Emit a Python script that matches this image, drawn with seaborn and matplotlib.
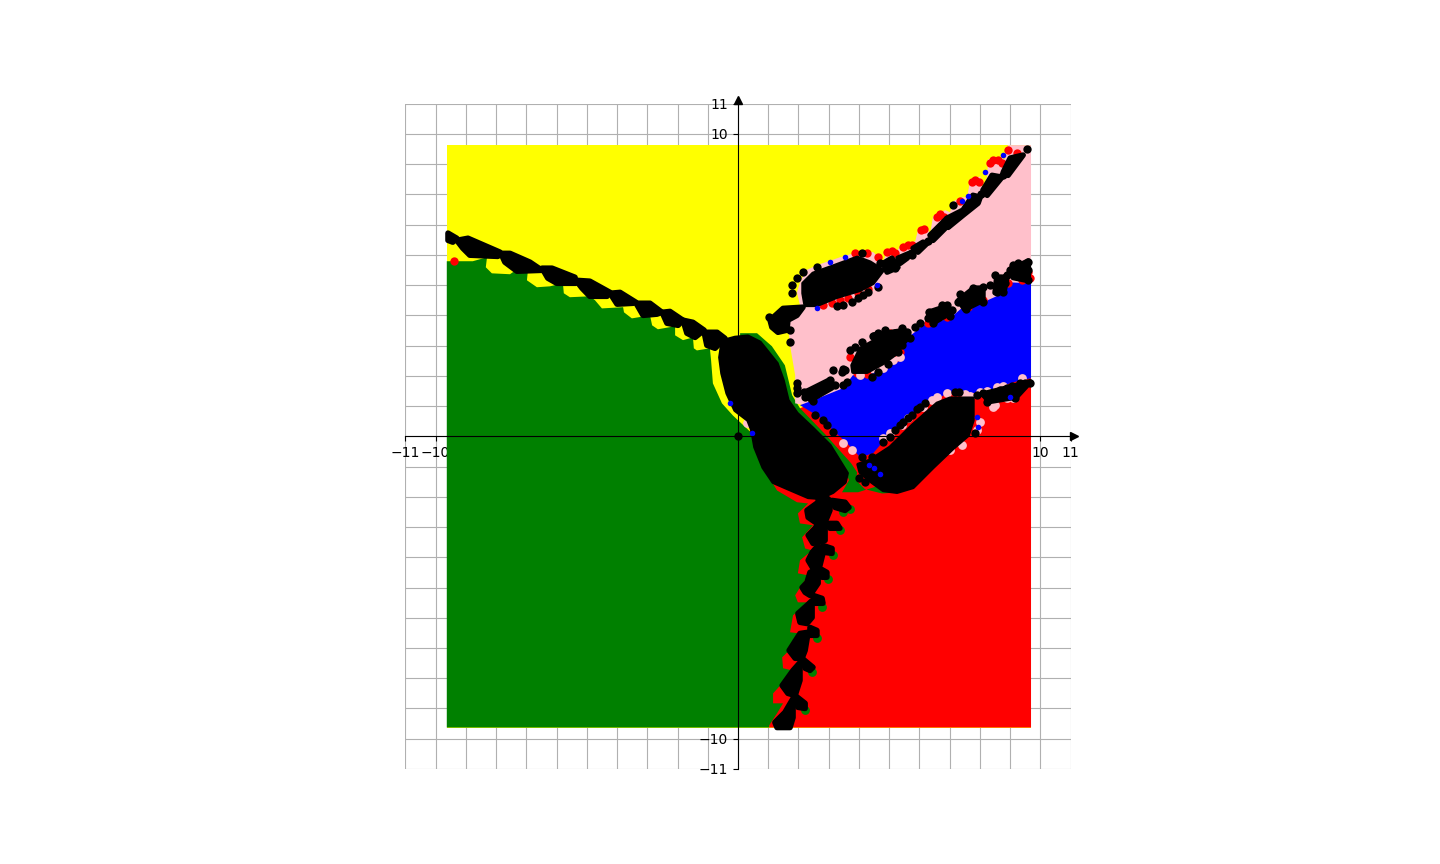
import matplotlib
matplotlib.use("Agg")
import matplotlib.pyplot as plt
import pandas as pd
import seaborn as sns

sns.set_style("ticks", rc={"axes.edgecolor": "black", "text.color": "black",
                           "xtick.color": "black", "ytick.color": "black",
                           "axes.linewidth": 0.8, "grid.color": "#b0b0b0"})
plt.rcParams["font.family"] = ["DejaVu Sans"]

# basin outlines
yellow_area = [(-9.63, 9.63), (9.69, 9.63), (9.69, -9.63), (-9.63, -9.63)]
red_area = [(1.03, -9.63), (9.69, -9.63), (9.69, 1.95), (8.34, 1.70), (7.24, 1.60), (6.25, 1.20),
            (5.03, 0.30), (4.13, -0.50), (3.61, -0.20), (3.14, 0.25), (2.71, 0.70), (2.22, 1.00),
            (0.40, 0.20), (0.07, -0.13), (0.73, -2.12)]
green_area = [(-9.63, -9.63), (-9.63, 5.79), (-8.77, 5.79), (-8.30, 5.92), (-8.34, 5.59), (-8.14, 5.39),
              (-7.54, 5.36), (-7.44, 5.43), (-6.95, 5.46), (-6.98, 5.16), (-6.65, 4.93), (-6.22, 4.96),
              (-5.79, 5.06), (-5.76, 4.73), (-5.56, 4.60), (-4.90, 4.63), (-4.73, 4.50), (-4.50, 4.23),
              (-3.80, 4.27), (-3.77, 4.10), (-3.51, 3.90), (-2.91, 4.00), (-2.84, 3.67), (-2.65, 3.54),
              (-2.08, 3.64), (-2.08, 3.34), (-1.82, 3.18), (-1.49, 3.27), (-1.46, 2.91), (-1.36, 2.84),
              (-0.93, 2.91), (-0.89, 2.51), (-0.83, 1.75), (-0.53, 1.09), (-0.17, 0.69), (0.46, 0.10),
              (0.56, -0.13), (0.83, -1.03), (1.29, -1.79), (1.95, -2.18), (2.32, -2.22), (1.98, -2.55),
              (2.05, -2.88), (2.48, -2.94), (2.12, -3.34), (2.22, -3.71), (2.45, -3.77), (2.05, -4.10),
              (1.98, -4.53), (2.32, -4.60), (2.05, -5.00), (1.89, -5.26), (1.98, -5.49), (2.28, -5.49),
              (1.82, -5.92), (1.72, -6.48), (2.05, -6.52), (1.79, -6.98), (1.46, -7.31), (1.49, -7.67),
              (1.79, -7.74), (1.46, -8.17), (1.16, -8.50), (1.16, -8.83), (1.49, -8.83), (1.29, -9.16),
              (1.03, -9.56), (1.03, -9.63)]
green_band = [(0.07, 3.41), (0.63, 3.41), (1.12, 2.98), (1.55, 2.35), (1.79, 1.36), (2.05, 0.93), (2.88, 0.07),
              (3.74, -0.89), (3.94, -1.19), (3.90, -1.45), (4.20, -1.75), (4.76, -1.89), (5.40, -1.85),
              (4.76, -1.60), (3.97, -1.85), (3.44, -1.85), (3.67, -1.45), (3.50, -1.00), (2.00, 0.00), (0.07, 2.00)]
pink_area = [(1.89, 1.09), (1.89, 2.02), (1.72, 3.01), (1.65, 3.77), (2.05, 4.17), (2.15, 4.23), (2.05, 4.33),
             (1.95, 4.76), (2.05, 5.09), (2.25, 5.49), (2.61, 5.66), (3.37, 5.92), (4.04, 6.12), (4.47, 6.09),
             (4.80, 5.79), (4.93, 6.09), (5.26, 6.12), (5.36, 6.29), (5.86, 6.45), (5.95, 6.81), (6.25, 6.91),
             (6.35, 6.68), (6.45, 7.28), (6.85, 7.48), (7.01, 7.41), (7.11, 7.77), (7.41, 7.91), (7.58, 7.91),
             (7.67, 8.44), (8.01, 8.60), (8.10, 8.10), (8.24, 8.60), (8.27, 9.16), (8.67, 9.23), (8.83, 9.16),
             (8.93, 9.63), (9.69, 9.63), (9.69, 5.06), (5.36, 2.18), (2.48, 0.86), (2.10, 1.05)]
blue_area = [(2.05, 1.03), (2.48, 1.19), (3.47, 1.59), (3.80, 2.02), (4.47, 2.08), (5.36, 2.61), (5.52, 3.18),
             (6.12, 3.67), (7.01, 3.90), (7.58, 4.40), (8.10, 4.43), (8.77, 4.73), (9.00, 5.09), (9.69, 5.06),
             (9.69, 1.92), (9.33, 1.85), (8.57, 1.62), (8.01, 1.42), (7.24, 1.46), (6.91, 1.42), (6.25, 1.03),
             (5.59, 0.53), (5.03, 0.10), (4.47, -0.56), (4.04, -0.69), (3.61, -0.23), (3.14, 0.20), (2.71, 0.63)]

# black sets
big_blob = [(-0.43, 3.18), (-0.10, 3.27), (0.33, 3.31), (0.73, 3.11), (1.29, 2.41), (1.49, 1.85), (1.65, 1.19),
            (1.95, 0.76), (2.48, 0.26), (3.04, -0.30), (3.61, -1.22), (3.54, -1.52), (3.14, -1.85), (2.71, -2.05),
            (2.32, -2.02), (1.62, -1.72), (1.16, -1.52), (0.83, -1.03), (0.56, -0.36), (0.46, 0.20), (0.33, 0.53),
            (-0.10, 0.86), (-0.36, 1.42), (-0.53, 2.08), (-0.60, 2.61), (-0.53, 3.08)]
upper_blob = [(2.15, 5.06), (2.48, 5.39), (3.04, 5.59), (3.94, 5.92), (4.37, 5.76), (4.80, 5.49), (4.47, 5.06),
              (4.04, 4.83), (3.27, 4.60), (2.61, 4.33), (2.22, 4.33), (2.15, 4.73)]
mid_blob = [(3.77, 2.35), (4.04, 2.91), (4.70, 3.27), (5.36, 3.24), (5.46, 3.08), (5.26, 2.75), (4.80, 2.41),
            (4.27, 2.12), (3.80, 2.12)]
lower_blob = [(4.37, -0.79), (5.03, -0.36), (5.76, 0.36), (6.58, 1.09), (7.01, 1.26), (7.77, 1.26), (7.77, 0.53),
              (7.61, 0.03), (7.11, -0.40), (6.45, -1.03), (5.79, -1.69), (5.26, -1.85), (4.80, -1.79), (4.43, -1.52),
              (4.04, -1.19), (3.97, -0.93)]
left_chain = [
    [(-9.59, 6.72), (-9.30, 6.55), (-9.43, 6.42), (-9.59, 6.48)],
    [(-9.30, 6.48), (-8.93, 6.55), (-7.87, 6.09), (-7.94, 5.95), (-8.87, 5.99), (-9.10, 6.22)],
    [(-7.84, 6.05), (-7.54, 6.05), (-6.88, 5.76), (-6.48, 5.49), (-7.31, 5.46), (-7.71, 5.76)],
    [(-6.48, 5.56), (-6.15, 5.56), (-5.39, 5.26), (-5.36, 5.06), (-5.99, 5.06), (-6.29, 5.23)],
    [(-5.36, 5.16), (-4.90, 5.13), (-4.23, 4.76), (-4.33, 4.63), (-4.90, 4.63), (-5.16, 4.90)],
    [(-4.23, 4.73), (-3.90, 4.76), (-3.37, 4.43), (-3.47, 4.40), (-4.00, 4.37)],
    [(-3.37, 4.40), (-2.91, 4.40), (-2.51, 4.10), (-2.68, 4.04), (-3.14, 4.00)],
    [(-2.51, 4.10), (-2.25, 4.13), (-1.82, 3.84), (-1.98, 3.67), (-2.35, 3.74)],
    [(-1.82, 3.84), (-1.49, 3.77), (-1.12, 3.51), (-1.42, 3.27), (-1.69, 3.41)],
    [(-1.12, 3.44), (-0.69, 3.44), (-0.43, 3.24), (-0.76, 2.91), (-1.03, 3.01)],
]
down_chain = [
    [(2.65, -1.79), (3.04, -2.12), (3.04, -2.45), (2.88, -2.84), (2.61, -2.88), (2.32, -2.68), (2.28, -2.45), (2.65, -2.18)],
    [(3.11, -2.12), (3.54, -2.18), (3.67, -2.35), (3.54, -2.45), (3.21, -2.35)],
    [(2.65, -2.88), (2.88, -3.01), (2.88, -3.44), (2.48, -3.54), (2.32, -3.27), (2.55, -3.04)],
    [(2.94, -2.88), (3.27, -2.88), (3.37, -3.04), (3.04, -3.04)],
    [(2.65, -3.61), (2.81, -3.87), (2.71, -4.27), (2.48, -4.37), (2.32, -4.10), (2.45, -3.84)],
    [(2.81, -3.61), (3.11, -3.71), (3.11, -3.87), (2.88, -3.84)],
    [(2.65, -4.37), (2.65, -4.86), (2.38, -5.26), (2.22, -5.16), (2.12, -5.00), (2.28, -4.83), (2.38, -4.50)],
    [(2.71, -4.37), (2.94, -4.50), (2.94, -4.66), (2.78, -4.66)],
    [(2.45, -5.43), (2.45, -5.99), (2.28, -6.19), (2.05, -6.15), (1.98, -5.86), (2.28, -5.59)],
    [(2.48, -5.26), (2.78, -5.36), (2.81, -5.52), (2.55, -5.52)],
    [(2.32, -6.48), (2.22, -7.08), (2.12, -7.34), (1.89, -7.34), (1.69, -7.08), (2.05, -6.52)],
    [(2.38, -6.32), (2.61, -6.42), (2.61, -6.58), (2.38, -6.58)],
    [(2.05, -7.48), (2.05, -8.07), (1.89, -8.57), (1.65, -8.50), (1.46, -8.24), (1.82, -7.74)],
    [(2.12, -7.34), (2.48, -7.64), (2.38, -7.74), (2.22, -7.67)],
    [(1.82, -8.67), (1.82, -9.30), (1.72, -9.63), (1.29, -9.63), (1.22, -9.46), (1.55, -9.13)],
    [(1.89, -8.57), (2.22, -8.83), (2.22, -9.00), (1.98, -8.96)],
]
up_chain = [
    [(4.80, 5.72), (5.09, 5.89), (5.29, 5.59), (4.93, 5.43)],
    [(5.29, 5.89), (5.76, 6.09), (5.59, 5.89), (5.36, 5.72)],
    [(5.79, 6.22), (6.12, 6.42), (6.25, 6.38), (5.95, 6.09)],
    [(6.35, 6.65), (6.91, 7.21), (6.95, 6.98), (6.45, 6.48)],
    [(6.91, 7.21), (7.44, 7.48), (7.77, 7.97), (8.01, 7.91), (7.94, 7.71), (7.44, 7.31), (6.95, 6.91)],
    [(8.10, 8.14), (8.40, 8.63), (8.73, 8.57), (8.24, 7.97)],
    [(8.77, 8.73), (9.00, 9.20), (9.43, 9.30), (8.93, 8.63)],
    [(1.06, 3.84), (1.49, 4.23), (2.15, 4.27), (1.95, 4.00), (1.65, 3.84), (1.62, 3.51), (1.32, 3.44), (1.12, 3.61)],
]
mid_chain = [
    [(9.00, 5.50), (9.60, 5.80), (9.60, 5.15), (9.10, 5.25)],
    [(7.30, 4.50), (7.80, 4.90), (8.10, 4.90), (8.10, 4.50), (7.50, 4.20)],
    [(8.55, 5.20), (8.90, 5.30), (8.80, 4.80), (8.50, 4.75)],
    [(6.30, 4.10), (6.90, 4.30), (7.05, 4.10), (6.45, 3.75)],
    [(4.50, 3.35), (5.50, 3.50), (5.60, 3.25), (5.30, 2.90)],
    [(2.20, 1.45), (3.00, 1.85), (3.10, 1.60), (2.40, 1.20)],
    [(8.10, 1.40), (8.90, 1.60), (9.66, 1.80), (9.20, 1.30), (8.30, 1.15)],
]

# single points along the basin edges
black_points = [(0, 0), (9.56, 9.49), (7.11, 7.64), (3.47, 1.69), (3.61, 1.79), (3.44, 2.12), (3.54, 2.18), (3.71, 2.84),
                (3.87, 2.94), (4.10, 3.11), (4.47, 3.31), (4.63, 3.41), (4.86, 3.51), (5.19, 3.41), (5.43, 3.57),
                (5.59, 3.44), (5.69, 3.24), (5.29, 2.78), (5.43, 3.01), (4.96, 2.38), (4.63, 2.12), (4.43, 1.95),
                (5.86, 3.61), (6.02, 3.74), (6.29, 3.90), (6.32, 4.10), (6.58, 4.07), (6.75, 4.33), (6.91, 4.33),
                (7.08, 4.17), (7.01, 3.97), (6.45, 3.74), (7.28, 4.43), (7.34, 4.70), (7.58, 4.56), (7.54, 4.20),
                (7.77, 4.90), (7.77, 4.66), (8.01, 4.66), (8.10, 4.43), (8.10, 4.93), (8.50, 5.33), (8.67, 5.23),
                (8.57, 4.76), (8.77, 4.76), (8.90, 5.33), (9.10, 5.66), (9.26, 5.72), (9.59, 5.76), (9.59, 5.16),
                (9.33, 5.39), (9.16, 5.39), (9.00, 5.49), (9.59, 5.49), (8.33, 5.00), (8.83, 5.06), (9.49, 5.33),
                (6.68, 4.17), (2.48, 1.16), (2.22, 1.29), (2.18, 1.46), (2.32, 1.46), (2.71, 1.59), (3.04, 1.85),
                (3.14, 2.18), (3.47, 2.22), (3.21, 1.69), (2.91, 1.72), (2.55, 0.69), (2.81, 0.53), (2.94, 0.36),
                (3.14, 0.13), (1.95, 1.75), (1.95, 1.59), (1.95, 1.42), (1.03, 3.94), (1.72, 3.51), (1.72, 3.11),
                (1.79, 4.73), (1.79, 5.00), (1.95, 5.23), (2.15, 5.43), (2.61, 5.59), (4.10, 6.05), (4.70, 5.72),
                (5.19, 5.56), (3.27, 4.30), (3.47, 4.33), (3.77, 4.43), (3.97, 4.56), (4.13, 4.66), (4.30, 4.76),
                (4.63, 4.93), (7.18, 1.46), (7.31, 1.46), (6.19, 1.09), (6.02, 0.96), (5.92, 0.89), (5.76, 0.69),
                (5.62, 0.60), (5.46, 0.46), (5.36, 0.36), (5.19, 0.20), (5.03, -0.03), (4.80, -0.20), (4.43, -0.69),
                (4.10, -0.69), (8.10, 1.42), (8.34, 1.29), (7.91, 1.36), (8.24, 1.12), (8.44, 1.42), (8.67, 1.52),
                (8.90, 1.59), (9.16, 1.26), (9.33, 1.75), (9.49, 1.75), (9.66, 1.75), (9.06, 1.65), (7.84, 0.10),
                (4.63, -0.99), (4.70, -1.46), (4.00, -1.39), (4.20, -1.52), (5.76, 6.00), (6.27, 6.45), (8.02, 8.00),
                (8.75, 8.65), (6.90, 7.00)]
red_points = [(8.34, 9.03), (8.44, 9.13), (8.60, 9.13), (8.73, 9.03), (7.74, 8.40), (7.84, 8.47), (7.97, 8.40),
              (6.58, 7.24), (6.68, 7.34), (6.81, 7.24), (6.05, 6.81), (6.15, 6.85), (4.93, 6.09), (5.09, 6.12),
              (5.19, 6.05), (5.46, 6.25), (5.62, 6.32), (5.76, 6.32), (3.87, 6.05), (4.27, 6.05), (4.63, 5.92),
              (7.34, 7.77), (8.93, 9.46), (9.23, 9.36), (2.81, 4.33), (3.11, 4.40), (3.37, 4.50), (3.64, 4.56),
              (3.97, 4.73), (4.30, 4.86), (3.71, 2.61), (3.94, 2.08), (4.27, 2.05), (4.80, 2.28), (5.19, 2.58),
              (5.36, 2.78), (5.03, 3.41), (6.29, 3.74), (6.91, 3.94), (7.61, 4.27), (8.10, 4.50), (8.93, 5.06),
              (9.59, 5.43), (9.39, 5.16), (9.66, 5.23), (9.10, 5.59), (-9.39, 5.79)]
pink_points = [(6.91, 1.42), (6.58, 1.29), (7.51, 1.39), (7.67, 1.32), (8.01, 1.46), (8.24, 1.49), (6.42, 1.19),
               (6.12, 0.96), (5.62, 0.60), (5.43, 0.36), (5.03, 0.10), (4.80, -0.07), (3.77, -0.46), (3.47, -0.23),
               (8.90, 1.26), (9.10, 1.26), (8.57, 1.62), (8.44, 0.96), (8.50, 1.03), (8.01, 0.46), (7.91, 0.20),
               (7.41, -0.30), (7.01, -0.46), (9.39, 1.92), (8.77, 1.65), (4.04, 2.02), (4.80, 2.25), (5.13, 2.51),
               (5.36, 2.61), (0.30, 0.43)]
blue_points = [(4.33, -0.96), (4.50, -1.06), (4.70, -1.26), (7.91, 0.63), (7.94, 0.30), (9.00, 1.29), (-0.26, 1.09),
               (0.46, 0.10), (2.61, 4.23), (4.60, 5.00), (3.54, 5.92), (3.04, 5.76), (8.77, 9.30), (8.17, 8.73),
               (7.41, 7.77), (7.61, 7.94)]
green_points = [(3.71, -2.41), (3.47, -2.51), (3.37, -3.11), (3.14, -3.94), (2.98, -4.73), (2.78, -5.66), (2.61, -6.68),
                (2.45, -7.81), (2.22, -9.06)]

ticks = [-11, -10, 10, 11]
grid_lines = list(range(-11, 12))


def fill(ax, pontos, cor, lw=0.0, zorder=1):
    xs, ys = zip(*pontos)
    ax.fill(xs, ys, color=cor, lw=lw, joinstyle="round", zorder=zorder)


def dots(ax, pontos, cor, size, zorder):
    df = pd.DataFrame(pontos, columns=["x", "y"])
    sns.scatterplot(data=df, x="x", y="y", color=cor, s=size, linewidth=0, ax=ax, zorder=zorder)


fig, ax = plt.subplots(figsize=(14.4, 8.64))

fill(ax, yellow_area, "yellow")
fill(ax, red_area, "red", zorder=1.1)
fill(ax, green_area, "green", zorder=1.2)
fill(ax, green_band, "green", zorder=1.3)
fill(ax, pink_area, "pink", zorder=1.4)
fill(ax, blue_area, "blue", zorder=1.5)
dots(ax, green_points, "green", 40, 1.6)
dots(ax, red_points, "red", 36, 1.7)
dots(ax, pink_points, "pink", 40, 1.7)

for shape in [big_blob, upper_blob, mid_blob, lower_blob]:
    fill(ax, shape, "black", lw=2.5, zorder=2)
for shape in left_chain + down_chain + up_chain + mid_chain:
    fill(ax, shape, "black", lw=4, zorder=2)
dots(ax, black_points, "black", 36, 2.1)
dots(ax, blue_points, "blue", 16, 2.2)

ax.set_aspect("equal")
ax.set_xlim(-11, 11)
ax.set_ylim(-11, 11)
ax.set_xlabel("")
ax.set_ylabel("")
ax.set_xticks(ticks)
ax.set_yticks(ticks)
ax.set_xticks(grid_lines, minor=True)
ax.set_yticks(grid_lines, minor=True)
ax.tick_params(which="minor", length=0)
ax.grid(True, which="both")
ax.set_axisbelow(True)

ax.spines["left"].set_position(("data", 0))
ax.spines["bottom"].set_position(("data", 0))
ax.spines["top"].set_visible(False)
ax.spines["right"].set_visible(False)
ax.plot(11.12, 0, ">k", clip_on=False, zorder=5)
ax.plot(0, 11.12, "^k", clip_on=False, zorder=5)

fig.savefig("out.png", dpi=100)
